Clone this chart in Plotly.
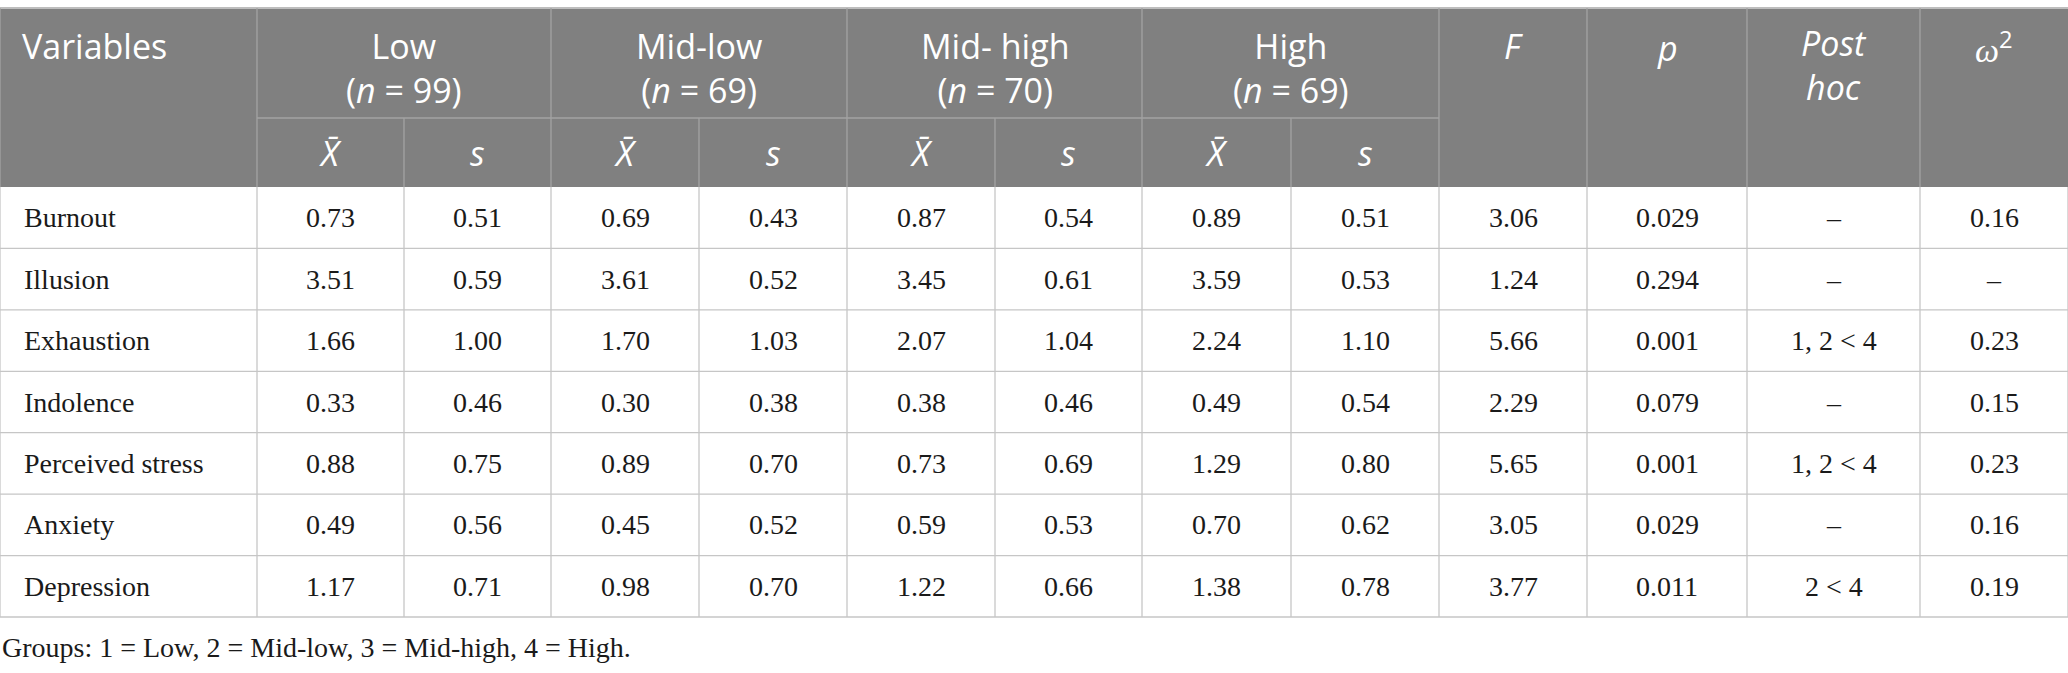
# Import libraries and modules
import plotly.graph_objs as go

# Table data
variables = ["Burnout", "Illusion", "Exhaustion", "Indolence",
             "Perceived stress", "Anxiety", "Depression"]
groups = ["Low", "Mid-low", "Mid- high", "High"]
group_n = [99, 69, 70, 69]

low_mean = [0.73, 3.51, 1.66, 0.33, 0.88, 0.49, 1.17]
low_sd = [0.51, 0.59, 1.00, 0.46, 0.75, 0.56, 0.71]
midlow_mean = [0.69, 3.61, 1.70, 0.30, 0.89, 0.45, 0.98]
midlow_sd = [0.43, 0.52, 1.03, 0.38, 0.70, 0.52, 0.70]
midhigh_mean = [0.87, 3.45, 2.07, 0.38, 0.73, 0.59, 1.22]
midhigh_sd = [0.54, 0.61, 1.04, 0.46, 0.69, 0.53, 0.66]
high_mean = [0.89, 3.59, 2.24, 0.49, 1.29, 0.70, 1.38]
high_sd = [0.51, 0.53, 1.10, 0.54, 0.80, 0.62, 0.78]
f_values = [3.06, 1.24, 5.66, 2.29, 5.65, 3.05, 3.77]
p_values = [0.029, 0.294, 0.001, 0.079, 0.001, 0.029, 0.011]
post_hoc = ["–", "–", "1, 2 < 4", "–", "1, 2 < 4", "–", "2 < 4"]
omega2 = [0.16, None, 0.23, 0.15, 0.23, 0.16, 0.19]

footnote = "Groups: 1 = Low, 2 = Mid-low, 3 = Mid-high, 4 = High."

# Layout of the table (pixels)
W, H = 2068, 673
col_edges = [0, 257, 404, 551, 699, 847, 995, 1142, 1291, 1439,
             1587, 1747, 1920, 2068]
top = 8
head_mid = 118
head_bot = 187
row_h = (617 - head_bot) / len(variables)

HEAD_BG = "#808080"
HEAD_LINE = "#a3a3a3"
BODY_LINE = "#c6c6c6"
HEAD_FONT = dict(family="Open Sans", size=34, color="white")
BODY_FONT = dict(family="Liberation Serif", size=28, color="#1a1a1a")

shapes = []
annotations = []


def line(x0, y0, x1, y1, color, width=1.3):
    shapes.append(dict(type="line", xref="x", yref="y", x0=x0, y0=y0,
                       x1=x1, y1=y1, line=dict(color=color, width=width)))


def text(x, y, s, font, xanchor="center"):
    annotations.append(dict(x=x, y=y, xref="x", yref="y", text=s,
                            showarrow=False, font=font, xanchor=xanchor,
                            yanchor="middle"))


def mid(i):
    return (col_edges[i] + col_edges[i + 1]) / 2


# Header background
shapes.append(dict(type="rect", xref="x", yref="y", x0=0, y0=top, x1=W,
                   y1=head_bot, fillcolor=HEAD_BG, line=dict(width=0),
                   layer="below"))

# Header lines
line(0, top, W, top, "#bdbdbd", 2)
line(col_edges[1], head_mid, col_edges[9], head_mid, HEAD_LINE)
for i in [1, 3, 5, 7, 9, 10, 11, 12]:
    line(col_edges[i], top, col_edges[i], head_bot, HEAD_LINE)
for i in [2, 4, 6, 8]:
    line(col_edges[i], head_mid, col_edges[i], head_bot, HEAD_LINE)

# Header texts
text(20, 46, "Variables", HEAD_FONT, xanchor="left")
for g, (name, n) in enumerate(zip(groups, group_n)):
    cx = (col_edges[1 + 2 * g] + col_edges[3 + 2 * g]) / 2
    text(cx, 68, "%s<br>(<i>n</i> = %d)" % (name, n), HEAD_FONT)
    text(mid(1 + 2 * g), 153, "<i>X̄</i>", HEAD_FONT)
    text(mid(2 + 2 * g), 153, "<i>s</i>", HEAD_FONT)
text(mid(9), 46, "<i>F</i>", HEAD_FONT)
text(mid(10), 48, "<i>p</i>", HEAD_FONT)
text(mid(11), 65, "<i>Post<br>hoc</i>", HEAD_FONT)
text(mid(12), 46,
     "<span style='font-family:Liberation Serif'><i>ω</i></span>"
     "<sup>2</sup>", HEAD_FONT)

# Body rows
columns = [low_mean, low_sd, midlow_mean, midlow_sd, midhigh_mean,
           midhigh_sd, high_mean, high_sd]
for r, name in enumerate(variables):
    y0 = head_bot + r * row_h
    yc = y0 + row_h / 2
    text(22, yc, name, BODY_FONT, xanchor="left")
    for c, col in enumerate(columns):
        text(mid(1 + c), yc, "%.2f" % col[r], BODY_FONT)
    text(mid(9), yc, "%.2f" % f_values[r], BODY_FONT)
    text(mid(10), yc, "%.3f" % p_values[r], BODY_FONT)
    text(mid(11), yc, post_hoc[r], BODY_FONT)
    om = "–" if omega2[r] is None else "%.2f" % omega2[r]
    text(mid(12), yc, om, BODY_FONT)
    line(0, y0 + row_h, W, y0 + row_h, BODY_LINE)

body_bot = head_bot + len(variables) * row_h
for x in col_edges:
    line(x, head_bot, x, body_bot, BODY_LINE)
line(0, top, 0, head_bot, HEAD_LINE)

# Footnote
text(0, 647, footnote, BODY_FONT, xanchor="left")

# Build the figure
fig = go.Figure(layout=go.Layout(
    width=W, height=H,
    margin=dict(l=0, r=0, t=0, b=0),
    paper_bgcolor="white", plot_bgcolor="white",
    xaxis=dict(range=[0, W], visible=False, fixedrange=True),
    yaxis=dict(range=[H, 0], visible=False, fixedrange=True),
    shapes=shapes, annotations=annotations, showlegend=False,
))

# Save the plot (page margin removed so the table starts at the corner)
fig.write_html("out.html", config=dict(displayModeBar=False),
               post_script="document.body.style.margin = '0';")
